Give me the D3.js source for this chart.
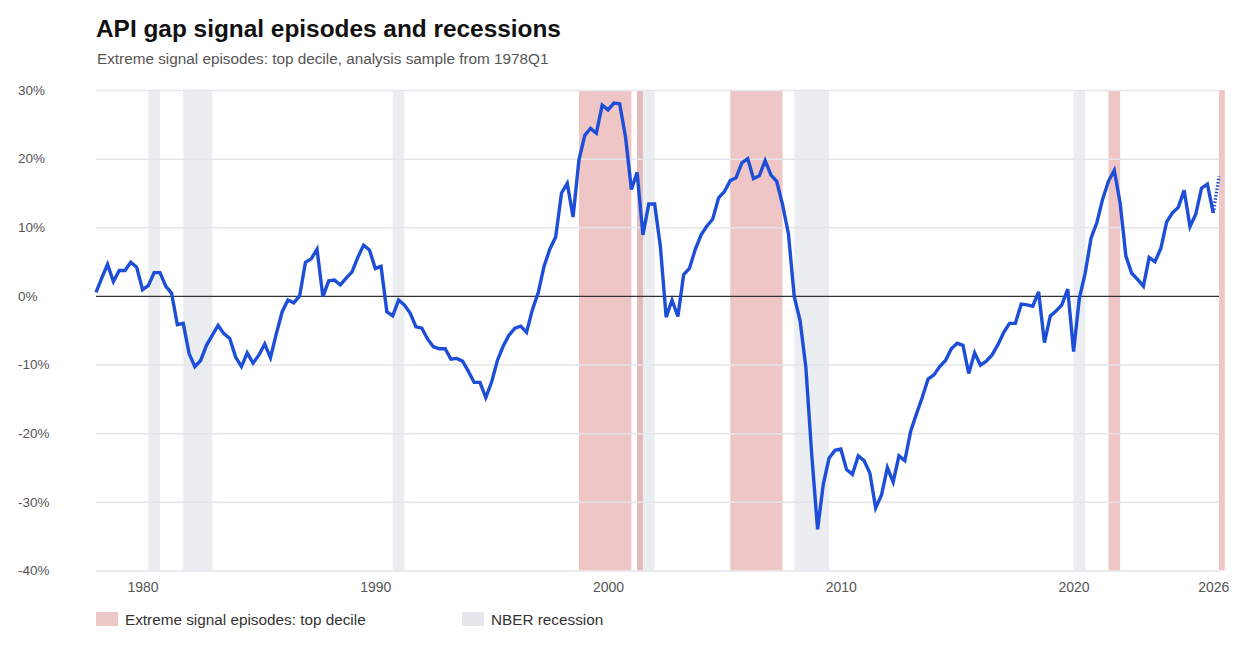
<!DOCTYPE html>
<html>
<head>
<meta charset="utf-8">
<script src="https://cdn.jsdelivr.net/npm/d3@7"></script>
<style>
  body { margin: 0; background: #fff; }
  text { font-family: "Liberation Sans", Arial, sans-serif; }
</style>
</head>
<body>
<div id="chart"></div>
<script>
// quarterly API gap (%), 1978Q1 .. 2026Q2 (last point is the dotted nowcast)
var startYear = 1978;
var apiGap = [
  0.5, 2.6, 4.6, 2.1, 3.7, 3.7, 4.9, 4.2, 0.9, 1.5,
  3.4, 3.4, 1.4, 0.4, -4.2, -4.0, -8.4, -10.3, -9.4, -7.2,
  -5.7, -4.3, -5.5, -6.2, -8.9, -10.3, -8.3, -9.8, -8.6, -7.0,
  -9.0, -5.5, -2.3, -0.6, -1.0, 0.0, 4.9, 5.4, 6.8, -0.1,
  2.2, 2.3, 1.6, 2.6, 3.5, 5.6, 7.4, 6.7, 4.0, 4.3,
  -2.3, -2.9, -0.6, -1.3, -2.5, -4.5, -4.7, -6.3, -7.4, -7.7,
  -7.7, -9.2, -9.1, -9.5, -11.0, -12.6, -12.6, -14.8, -12.5, -9.4,
  -7.3, -5.7, -4.7, -4.4, -5.3, -2.0, 0.5, 4.3, 6.8, 8.6,
  15.0, 16.4, 11.5, 19.8, 23.4, 24.4, 23.7, 27.8, 27.1, 28.1,
  28.0, 23.2, 15.5, 18.0, 8.9, 13.4, 13.4, 7.2, -3.1, -0.6,
  -3.0, 3.1, 4.0, 6.8, 8.9, 10.2, 11.2, 14.3, 15.2, 16.8,
  17.2, 19.4, 20.0, 17.1, 17.5, 19.7, 17.6, 16.7, 13.3, 9.1,
  -0.1, -3.6, -10.4, -23.1, -34.0, -27.4, -23.6, -22.5, -22.3, -25.3,
  -26.0, -23.3, -24.0, -25.8, -30.9, -29.0, -25.0, -27.1, -23.3, -24.0,
  -19.7, -17.2, -14.8, -12.1, -11.5, -10.3, -9.4, -7.7, -6.9, -7.2,
  -11.3, -8.3, -10.1, -9.5, -8.6, -7.1, -5.3, -4.0, -4.0, -1.2,
  -1.3, -1.5, 0.6, -6.8, -2.9, -2.2, -1.3, 1.0, -8.1, -0.3,
  3.3, 8.4, 10.7, 14.1, 16.7, 18.3, 13.5, 5.8, 3.3, 2.4,
  1.4, 5.6, 5.0, 6.9, 10.8, 12.1, 12.9, 15.4, 10.1, 11.9,
  15.7, 16.3, 12.1, 17.4
];

// shaded periods, first and last quarter (inclusive)
var episodeFrom = ["1998Q4", "2001Q2", "2005Q2", "2021Q3", "2026Q2"];
var episodeTo   = ["2000Q4", "2001Q2", "2007Q2", "2021Q4", "2026Q2"];
var recessionFrom = ["1980Q2", "1981Q4", "1990Q4", "2001Q2", "2008Q1", "2020Q1"];
var recessionTo   = ["1980Q3", "1982Q4", "1991Q1", "2001Q4", "2009Q2", "2020Q2"];

var xTickYears = [1980, 1990, 2000, 2010, 2020, 2026];
var yTicks = [30, 20, 10, 0, -10, -20, -30, -40];

var legendLabels = ["Extreme signal episodes: top decile", "NBER recession"];

// sizes
var svgWidth = 1258;
var svgHeight = 656;
var margin = { top: 90, right: 39, bottom: 85.5, left: 96 };
var chartWidth = svgWidth - margin.left - margin.right;
var chartHeight = svgHeight - margin.top - margin.bottom;

var pinkFill = "rgba(205, 92, 92, 0.35)";
var grayFill = "#ecedf0";
var lineBlue = "#1d4ed8";

function quarterStart(q) {
  var y = +q.slice(0, 4);
  var n = +q.slice(5);
  return new Date(y, (n - 1) * 3, 1);
}
function quarterEnd(q) {
  var d = quarterStart(q);
  return new Date(d.getFullYear(), d.getMonth() + 3, 1);
}

var points = apiGap.map(function(v, i) {
  return { date: new Date(startYear, i * 3, 1), value: v };
});

var svg = d3.select("#chart")
  .append("svg")
  .attr("width", svgWidth)
  .attr("height", svgHeight);

// title block
svg.append("text")
  .attr("x", 96)
  .attr("y", 37)
  .style("font-size", "24.4px")
  .style("font-weight", "bold")
  .attr("fill", "#111")
  .text("API gap signal episodes and recessions");

svg.append("text")
  .attr("x", 97)
  .attr("y", 64)
  .style("font-size", "15.3px")
  .attr("fill", "#555")
  .text("Extreme signal episodes: top decile, analysis sample from 1978Q1");

var chartGroup = svg.append("g")
  .attr("transform", `translate(${margin.left}, ${margin.top})`);

var xScale = d3.scaleTime()
  .domain([points[0].date, points[points.length - 1].date])
  .range([0, chartWidth]);

var yScale = d3.scaleLinear()
  .domain([-40, 30])
  .range([chartHeight, 0]);

// recession bands (under everything)
chartGroup.append("g")
  .selectAll("rect")
  .data(recessionFrom)
  .enter()
  .append("rect")
  .attr("x", d => xScale(quarterStart(d)))
  .attr("width", (d, i) => xScale(quarterEnd(recessionTo[i])) - xScale(quarterStart(d)))
  .attr("y", 0)
  .attr("height", chartHeight)
  .attr("fill", grayFill);

// signal episodes
chartGroup.append("g")
  .selectAll("rect")
  .data(episodeFrom)
  .enter()
  .append("rect")
  .attr("x", d => xScale(quarterStart(d)))
  .attr("width", (d, i) => xScale(quarterEnd(episodeTo[i])) - xScale(quarterStart(d)))
  .attr("y", 0)
  .attr("height", chartHeight)
  .attr("fill", pinkFill);

// gridlines
var leftAxis = d3.axisLeft(yScale)
  .tickValues(yTicks)
  .tickSize(-chartWidth)
  .tickFormat(d => d + "%");

var yAxisG = chartGroup.append("g").call(leftAxis);
yAxisG.select(".domain").remove();
yAxisG.selectAll(".tick line")
  .attr("stroke", d => d === 0 ? "#333" : "#e4e5ea")
  .attr("stroke-width", d => d === 0 ? 1.2 : 1.5);
yAxisG.selectAll(".tick text")
  .attr("x", 18 - margin.left)
  .attr("text-anchor", "start")
  .attr("fill", "#555")
  .style("font-size", "13.5px")
  .style("font-family", "'Liberation Sans', Arial, sans-serif");
// keep zero line on top of the bands
yAxisG.selectAll(".tick").filter(d => d === 0).raise();

// x axis labels
var bottomAxis = d3.axisBottom(xScale)
  .tickValues(xTickYears.map(y => new Date(y, 0, 1)))
  .tickSize(0)
  .tickFormat(d3.timeFormat("%Y"));

var xAxisG = chartGroup.append("g")
  .attr("transform", `translate(0, ${chartHeight})`)
  .call(bottomAxis);
xAxisG.select(".domain").remove();
xAxisG.selectAll(".tick text")
  .attr("y", 12)
  .attr("fill", "#555")
  .style("font-size", "14px")
  .style("font-family", "'Liberation Sans', Arial, sans-serif");

// the line: solid up to the last quarter, dotted for the final step
var line = d3.line()
  .x(d => xScale(d.date))
  .y(d => yScale(d.value));

chartGroup.append("path")
  .datum(points.slice(0, points.length - 1))
  .attr("fill", "none")
  .attr("stroke", lineBlue)
  .attr("stroke-width", 3.4)
  .attr("stroke-linejoin", "miter")
  .attr("d", line);

chartGroup.append("path")
  .datum(points.slice(points.length - 2))
  .attr("fill", "none")
  .attr("stroke", lineBlue)
  .attr("stroke-width", 3.4)
  .attr("stroke-dasharray", "1.5,1.8")
  .attr("d", line);

// legend
var legendX = [96, 462];
var legendFill = ["#ecc8c9", "#e6e7eb"];
var legend = svg.append("g");
legend.selectAll("rect")
  .data(legendLabels)
  .enter()
  .append("rect")
  .attr("x", (d, i) => legendX[i])
  .attr("y", 612)
  .attr("width", 22)
  .attr("height", 14)
  .attr("fill", (d, i) => legendFill[i]);

legend.selectAll("text")
  .data(legendLabels)
  .enter()
  .append("text")
  .attr("x", (d, i) => legendX[i] + 29)
  .attr("y", 620)
  .attr("dy", "0.35em")
  .style("font-size", "15.3px")
  .attr("fill", "#333")
  .text(d => d);
</script>
</body>
</html>
